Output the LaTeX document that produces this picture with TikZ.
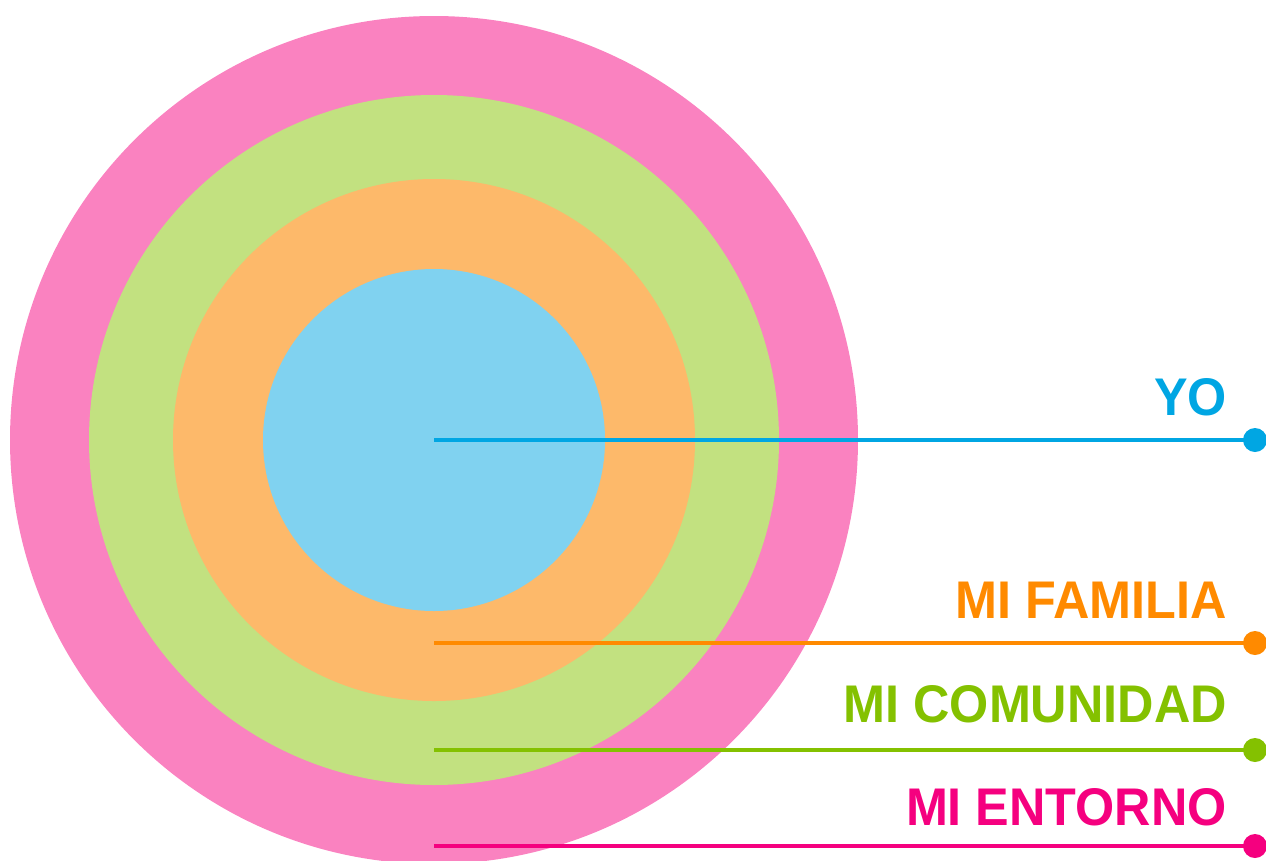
\documentclass[tikz,border=0pt]{standalone}
\usepackage{fontspec}
\setmainfont{Liberation Sans}[FakeStretch=0.95]
\definecolor{ringpink}{HTML}{FA82C0}
\definecolor{ringgreen}{HTML}{C2E180}
\definecolor{ringorange}{HTML}{FDB96A}
\definecolor{ringblue}{HTML}{80D2F0}
\definecolor{lblue}{HTML}{00A6E3}
\definecolor{lorange}{HTML}{FF8A00}
\definecolor{lgreen}{HTML}{84C100}
\definecolor{lpink}{HTML}{F5007F}
\begin{document}
\begin{tikzpicture}[x=1pt,y=-1pt,
  ring/.style={circle,inner sep=0pt,minimum size=#1},
  dotend/.style={circle,fill=#1,inner sep=0pt,minimum size=24pt},
  conn/.style={line width=4pt,draw=#1},
  lab/.style={anchor=base east,inner sep=0pt,text=#1,font=\fontsize{53}{60}\selectfont\bfseries}]
\useasboundingbox (0,0) rectangle (1266,860);
\begin{scope}
\clip (0,0) rectangle (1266,860);
\fill[ringpink] (434,440) circle (424);
\fill[ringgreen] (434,440) circle (345);
\fill[ringorange] (434,440) circle (261);
\fill[ringblue] (434,440) circle (171);
\coordinate (c1) at (434,440);
\coordinate (c2) at (434,643);
\coordinate (c3) at (434,750);
\coordinate (c4) at (434,846);
\node[dotend=lblue] (d1) at (1255,440) {};
\node[dotend=lorange] (d2) at (1255,643) {};
\node[dotend=lgreen] (d3) at (1255,750) {};
\node[dotend=lpink] (d4) at (1255,846) {};
\draw[conn=lblue] (c1) -- (d1.center);
\draw[conn=lorange] (c2) -- (d2.center);
\draw[conn=lgreen] (c3) -- (d3.center);
\draw[conn=lpink] (c4) -- (d4.center);
\end{scope}
\node[lab=lblue] (t1) at (1227,415) {YO};
\node[lab=lorange] (t2) at (1227,618) {MI FAMILIA};
\node[lab=lgreen] (t3) at (1227,722) {MI COMUNIDAD};
\node[lab=lpink] (t4) at (1227,825) {MI ENTORNO};
\end{tikzpicture}
\end{document}
